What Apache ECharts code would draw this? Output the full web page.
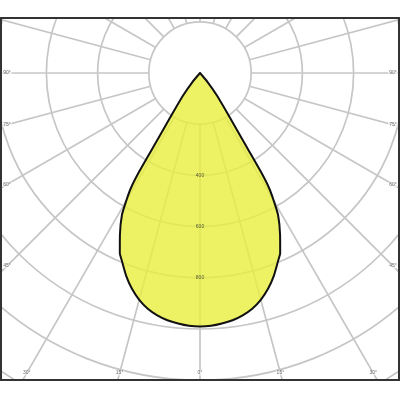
<!DOCTYPE html>
<html>
<head>
<meta charset="utf-8">
<script src="https://cdn.jsdelivr.net/npm/echarts@6/dist/echarts.min.js"></script>
<style>html,body{margin:0;padding:0;background:#fff}#c{width:400px;height:400px}</style>
</head>
<body>
<div id="c"></div>
<script>
// Half-profile of the luminous intensity distribution (symmetric), angle from nadir in degrees
const curveAngles = [0, 2.5, 5, 7.5, 10, 12.5, 15, 17.5, 20, 22.5, 24, 26.3, 28.8, 30.06, 31.0, 31.6, 32.05, 32.8, 34.3, 37.0, 40.0];
const curveIntensity = [990, 988, 982, 974, 961, 943, 917, 884, 843, 796, 770, 706, 633, 573, 523, 459, 369, 279, 189, 110, 45];
// Tick labels
const angleTicks = [-90, -75, -60, -45, -30, -15, 0, 15, 30, 45, 60, 75, 90];
const intensityTicks = [400, 600, 800];

// layout
const CENTER = [200, 73];
const PX = 0.256;           // pixels per cd
const RMAX = 1600;
const GRID_MIN = 200;

function edgeRadius(a) {
  const t = Math.abs(a) * Math.PI / 180;
  const c = Math.cos(t), s = Math.sin(t);
  let r = Infinity;
  if (c > 1e-6) r = Math.min(r, 300 / c);
  if (s > 1e-6) r = Math.min(r, 193 / s);
  return r / PX;
}

const curve = [[0, -90]];
for (let i = curveAngles.length - 1; i >= 0; i--) curve.push([curveIntensity[i], -curveAngles[i]]);
for (let i = 1; i < curveAngles.length; i++) curve.push([curveIntensity[i], curveAngles[i]]);
curve.push([0, 90]);

const angleLabelData = angleTicks.map(a => ({ value: [edgeRadius(a), a], name: Math.abs(a) + '°' }));
const intensityLabelData = intensityTicks.map(v => ({ value: [v, 0], name: String(v) }));

const hiddenAxis = { axisLine: { show: false }, axisTick: { show: false }, axisLabel: { show: false } };
const gridLine = { color: '#c6c6c6', width: 1.7 };

const chart = echarts.init(document.getElementById('c'), null, { renderer: 'canvas' });
chart.setOption({
  animation: false,
  backgroundColor: '#fff',
  polar: [
    { center: CENTER, radius: [GRID_MIN * PX, RMAX * PX] },
    { center: CENTER, radius: [0, RMAX * PX] }
  ],
  angleAxis: [
    Object.assign({ polarIndex: 0, type: 'value', min: -180, max: 180, interval: 15, startAngle: 90, clockwise: true,
      splitLine: { show: true, lineStyle: gridLine } }, hiddenAxis),
    Object.assign({ polarIndex: 1, type: 'value', min: -180, max: 180, interval: 15, startAngle: 90, clockwise: true,
      splitLine: { show: false } }, hiddenAxis)
  ],
  radiusAxis: [
    Object.assign({ polarIndex: 0, type: 'value', min: GRID_MIN, max: RMAX, interval: 200,
      splitLine: { show: true, lineStyle: gridLine } }, hiddenAxis),
    Object.assign({ polarIndex: 1, type: 'value', min: 0, max: RMAX, interval: 200,
      splitLine: { show: false } }, hiddenAxis)
  ],
  series: [
    {
      type: 'line', coordinateSystem: 'polar', polarIndex: 1, data: curve,
      symbol: 'none', smooth: 0.2, z: 3, silent: true,
      lineStyle: { color: '#111', width: 2, join: 'round', cap: 'round' },
      areaStyle: { color: 'rgb(231,239,61)', opacity: 0.8 }
    },
    {
      type: 'scatter', coordinateSystem: 'polar', polarIndex: 1, data: intensityLabelData,
      symbolSize: 0.1, itemStyle: { color: 'rgba(0,0,0,0)' }, z: 4, silent: true,
      label: { show: true, position: 'inside', formatter: '{b}', color: '#333', fontSize: 5, fontFamily: 'Liberation Sans' }
    },
    {
      type: 'scatter', coordinateSystem: 'polar', polarIndex: 1, data: angleLabelData,
      symbolSize: 0.1, itemStyle: { color: 'rgba(0,0,0,0)' }, z: 4, silent: true,
      label: { show: true, position: 'inside', formatter: '{b}', color: '#444', fontSize: 5, fontFamily: 'Liberation Sans',
        backgroundColor: 'rgba(255,255,255,0.8)', padding: [0, 1] }
    }
  ],
  graphic: [
    { type: 'rect', shape: { x: 0, y: 0, width: 400, height: 17 }, style: { fill: '#fff' }, z: 100, silent: true },
    { type: 'rect', shape: { x: 0, y: 381, width: 400, height: 19 }, style: { fill: '#fff' }, z: 100, silent: true },
    { type: 'rect', shape: { x: 1, y: 18, width: 398, height: 362 }, style: { fill: 'none', stroke: '#333', lineWidth: 2 }, z: 101, silent: true }
  ]
});
</script>
</body>
</html>
